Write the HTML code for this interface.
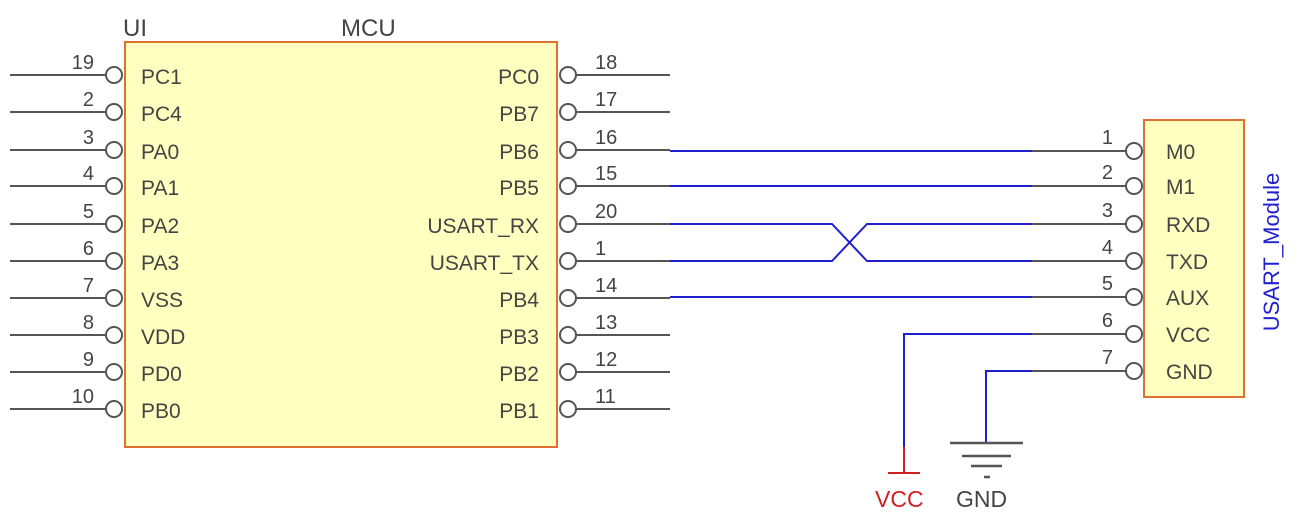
<!DOCTYPE html>
<html><head><meta charset="utf-8"><style>
html,body{margin:0;padding:0;background:#fff;}
svg{display:block;}
text{font-family:"Liberation Sans",sans-serif;}
</style></head><body>
<svg width="1314" height="524" viewBox="0 0 1314 524" xmlns="http://www.w3.org/2000/svg">
<rect x="125" y="42" width="432" height="405" fill="#ffffc0" stroke="#e07030" stroke-width="2"/>
<text x="123" y="36" font-size="24" fill="#444">UI</text>
<text x="341" y="36" font-size="24" fill="#444">MCU</text>
<g stroke="#555" stroke-width="2" fill="#fff">
<line x1="10" y1="75" x2="107" y2="75"/><line x1="10" y1="112" x2="107" y2="112"/><line x1="10" y1="150" x2="107" y2="150"/><line x1="10" y1="186" x2="107" y2="186"/><line x1="10" y1="224" x2="107" y2="224"/><line x1="10" y1="261" x2="107" y2="261"/><line x1="10" y1="298" x2="107" y2="298"/><line x1="10" y1="335" x2="107" y2="335"/><line x1="10" y1="372" x2="107" y2="372"/><line x1="10" y1="409" x2="107" y2="409"/>
<circle cx="114" cy="75" r="8"/><circle cx="114" cy="112" r="8"/><circle cx="114" cy="150" r="8"/><circle cx="114" cy="186" r="8"/><circle cx="114" cy="224" r="8"/><circle cx="114" cy="261" r="8"/><circle cx="114" cy="298" r="8"/><circle cx="114" cy="335" r="8"/><circle cx="114" cy="372" r="8"/><circle cx="114" cy="409" r="8"/>
<line x1="575" y1="75" x2="670" y2="75"/><line x1="575" y1="112" x2="670" y2="112"/><line x1="575" y1="150" x2="670" y2="150"/><line x1="575" y1="186" x2="670" y2="186"/><line x1="575" y1="224" x2="670" y2="224"/><line x1="575" y1="261" x2="670" y2="261"/><line x1="575" y1="298" x2="670" y2="298"/><line x1="575" y1="335" x2="670" y2="335"/><line x1="575" y1="372" x2="670" y2="372"/><line x1="575" y1="409" x2="670" y2="409"/>
<line x1="1032" y1="151" x2="1127" y2="151"/><line x1="1032" y1="186" x2="1127" y2="186"/><line x1="1032" y1="224" x2="1127" y2="224"/><line x1="1032" y1="261" x2="1127" y2="261"/><line x1="1032" y1="297" x2="1127" y2="297"/><line x1="1032" y1="334" x2="1127" y2="334"/><line x1="1032" y1="371" x2="1127" y2="371"/>
</g>
<g fill="none" stroke="#2020d0" stroke-width="2">
<polyline points="670,151 1032,151"/>
<polyline points="670,186 1032,186"/>
<polyline points="670,224 832,224 867,261 1032,261"/>
<polyline points="670,261 832,261 867,224 1032,224"/>
<polyline points="670,297 1032,297"/>
<polyline points="1032,334 904,334 904,447"/>
<polyline points="1032,371 986,371 986,443"/>
</g>
<g stroke="#d02020" stroke-width="2"><line x1="904" y1="447" x2="904" y2="473"/><line x1="888" y1="473" x2="920" y2="473"/></g>
<g stroke="#555" stroke-width="2.5"><line x1="950" y1="443" x2="1023" y2="443"/><line x1="962" y1="456" x2="1011" y2="456"/><line x1="971" y1="466" x2="1002" y2="466"/><line x1="984" y1="477" x2="990" y2="477"/></g>
<text x="875" y="507" font-size="23" fill="#d02020">VCC</text>
<text x="956" y="507" font-size="23" fill="#444">GND</text>
<g fill="#fff" stroke="#555" stroke-width="2">
<circle cx="568" cy="75" r="8"/><circle cx="568" cy="112" r="8"/><circle cx="568" cy="150" r="8"/><circle cx="568" cy="186" r="8"/><circle cx="568" cy="224" r="8"/><circle cx="568" cy="261" r="8"/><circle cx="568" cy="298" r="8"/><circle cx="568" cy="335" r="8"/><circle cx="568" cy="372" r="8"/><circle cx="568" cy="409" r="8"/>
</g>
<rect x="1144" y="120" width="100" height="277" fill="#ffffc0" stroke="#e07030" stroke-width="2"/>
<g fill="#fff" stroke="#555" stroke-width="2">
<circle cx="1134" cy="151" r="8"/><circle cx="1134" cy="186" r="8"/><circle cx="1134" cy="224" r="8"/><circle cx="1134" cy="261" r="8"/><circle cx="1134" cy="297" r="8"/><circle cx="1134" cy="334" r="8"/><circle cx="1134" cy="371" r="8"/>
</g>
<g font-size="21" fill="#444">
<text x="141" y="84">PC1</text><text x="141" y="121">PC4</text><text x="141" y="159">PA0</text><text x="141" y="195">PA1</text><text x="141" y="233">PA2</text><text x="141" y="270">PA3</text><text x="141" y="307">VSS</text><text x="141" y="344">VDD</text><text x="141" y="381">PD0</text><text x="141" y="418">PB0</text>
</g>
<g font-size="21" fill="#444" text-anchor="end">
<text x="539" y="84">PC0</text><text x="539" y="121">PB7</text><text x="539" y="159">PB6</text><text x="539" y="195">PB5</text><text x="539" y="233">USART_RX</text><text x="539" y="270">USART_TX</text><text x="539" y="307">PB4</text><text x="539" y="344">PB3</text><text x="539" y="381">PB2</text><text x="539" y="418">PB1</text>
</g>
<g font-size="20" fill="#444" text-anchor="end">
<text x="94" y="69">19</text><text x="94" y="106">2</text><text x="94" y="144">3</text><text x="94" y="180">4</text><text x="94" y="218">5</text><text x="94" y="255">6</text><text x="94" y="292">7</text><text x="94" y="329">8</text><text x="94" y="366">9</text><text x="94" y="403">10</text>
<text x="1113" y="144">1</text><text x="1113" y="179">2</text><text x="1113" y="217">3</text><text x="1113" y="254">4</text><text x="1113" y="290">5</text><text x="1113" y="327">6</text><text x="1113" y="364">7</text>
</g>
<g font-size="20" fill="#444">
<text x="595" y="69">18</text><text x="595" y="106">17</text><text x="595" y="144">16</text><text x="595" y="180">15</text><text x="595" y="218">20</text><text x="595" y="255">1</text><text x="595" y="292">14</text><text x="595" y="329">13</text><text x="595" y="366">12</text><text x="595" y="403">11</text>
</g>
<g font-size="21" fill="#444">
<text x="1166" y="159">M0</text><text x="1166" y="194">M1</text><text x="1166" y="232">RXD</text><text x="1166" y="269">TXD</text><text x="1166" y="305">AUX</text><text x="1166" y="342">VCC</text><text x="1166" y="379">GND</text>
</g>
<text transform="translate(1279,252) rotate(-90)" text-anchor="middle" font-size="22" fill="#2020d0">USART_Module</text>
</svg>
</body></html>
